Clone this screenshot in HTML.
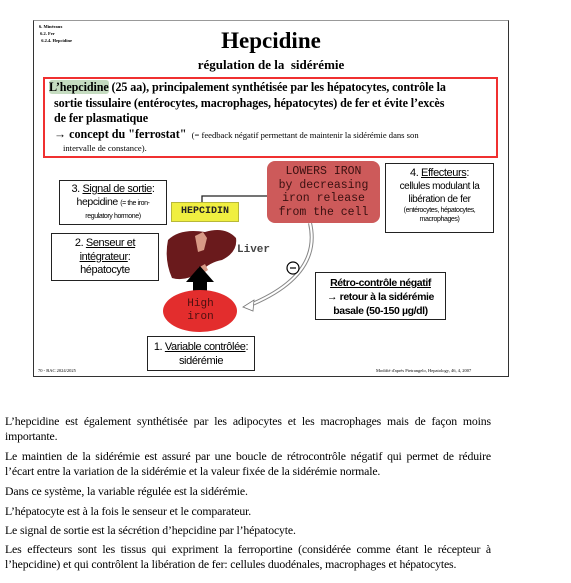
<!DOCTYPE html>
<html><head><meta charset="utf-8"><style>
*{margin:0;padding:0;box-sizing:border-box}
body{width:571px;height:583px;background:#fff;position:relative;overflow:hidden;font-family:"Liberation Serif",serif;color:#000}
.a{position:absolute}
.box{position:absolute;border:1.3px solid #222;background:#fff;font-family:"Liberation Sans",sans-serif;text-align:center;font-size:10px;line-height:12px;letter-spacing:-0.4px}
.mono{font-family:"Liberation Mono",monospace}
u{text-decoration:underline}
.bt{position:absolute;left:5px;width:486px;font-size:11.8px;line-height:15px;text-align:justify;letter-spacing:-0.15px}
</style></head><body>
<div class="a" style="left:33px;top:20px;width:476px;height:357px;border:1.3px solid #333;border-top-color:#999"></div>
<div class="a" style="left:39px;top:23px;font-size:4.5px;line-height:7px;font-weight:bold">6. Minéraux<br>&nbsp;6.2. Fer<br>&nbsp;&nbsp;6.2.4. Hepcidine</div>
<div class="a" style="left:0;width:542px;top:28px;text-align:center;font-size:23px;font-weight:bold;line-height:26px">Hepcidine</div>
<div class="a" style="left:0;width:542px;top:57px;text-align:center;font-size:13px;font-weight:bold;line-height:16px">régulation de la&nbsp; sidérémie</div>
<div class="a" style="left:43px;top:77px;width:455px;height:81px;border:2px solid #f03030"></div>
<div class="a" style="left:49px;top:80px;width:447px;font-size:12.1px;font-weight:bold;line-height:15.5px;white-space:nowrap;letter-spacing:-0.1px"><span style="background:#c5dcc0;border-radius:3px">L’hepcidine</span> (25 aa), principalement synthétisée par les hépatocytes, contrôle la<br><span style="padding-left:5px">sortie tissulaire (entérocytes, macrophages, hépatocytes) de fer et évite l’excès</span><br><span style="padding-left:5px">de fer plasmatique</span></div>
<div class="a" style="left:54px;top:127px;font-size:12.1px;font-weight:bold;line-height:15px;white-space:nowrap">→ concept du "ferrostat" <span style="font-weight:normal;font-size:8.6px">&nbsp;(= feedback négatif permettant de maintenir la sidérémie dans son</span></div>
<div class="a" style="left:63px;top:142px;font-size:8.6px;line-height:12px">intervalle de constance).</div>

<svg class="a" style="left:0;top:0" width="571" height="400">
<polyline points="202,218 202,196 268,196" fill="none" stroke="#222" stroke-width="1.3"/>
<path d="M168,240 Q180,228 205,232 Q225,226 236,238 Q238,252 222,260 Q210,262 200,272 Q185,282 172,278 Q164,260 168,240Z" fill="#6a1a1c"/>
<path d="M195,236 l8,-4 4,6 -3,12 -6,2z" fill="#d89a86"/>
<path d="M198,268 l7,-4 3,6 -6,4z" fill="#d89a86"/>
<polygon points="193,295 207,295 207,282 214,282 200,266 186,282 193,282" fill="#000"/>
<ellipse cx="200" cy="311" rx="37" ry="21" fill="#e32d2d"/>
<path d="M310,223 Q322,275 250,305" fill="none" stroke="#888" stroke-width="4"/>
<path d="M310,223 Q322,275 250,305" fill="none" stroke="#fff" stroke-width="2"/>
<polygon points="243,307 254,300 253,311" fill="#fff" stroke="#777" stroke-width="0.8"/>
<circle cx="293" cy="268" r="6" fill="#fff" stroke="#000" stroke-width="1.2"/>
<line x1="290" y1="268" x2="296" y2="268" stroke="#000" stroke-width="1.2"/>
</svg>
<div class="a mono" style="left:267px;top:161px;width:113px;height:62px;background:#cd5a5a;border-radius:8px;color:#3a1010;font-size:11.5px;line-height:13.5px;text-align:center;padding-top:4px">LOWERS IRON<br>by decreasing<br>iron release<br>from the cell</div>
<div class="a mono" style="left:171px;top:202px;width:68px;height:20px;background:#f0ef40;border:1px solid #b8b838;font-size:10px;font-weight:bold;color:#222;text-align:center;line-height:18px">HEPCIDIN</div>
<div class="a mono" style="left:237px;top:244px;font-size:11px;font-weight:bold;color:#444">Liver</div>
<div class="a mono" style="left:163px;top:298px;width:75px;text-align:center;font-size:11px;line-height:13px;color:#4a1010">High<br>iron</div>

<div class="box" style="left:59px;top:180px;width:108px;height:45px;padding-top:2px"><span style="font-size:11px">3. <u>Signal de sortie</u>:</span><br><span style="font-size:10.5px">hepcidine</span> <span style="font-size:7px">(= the iron-<br>regulatory hormone)</span></div>
<div class="box" style="left:51px;top:233px;width:108px;height:48px;font-size:11px;line-height:13.5px;padding-top:3px">2. <u>Senseur et<br>intégrateur</u>:<br>hépatocyte</div>
<div class="box" style="left:385px;top:163px;width:109px;height:70px;padding-top:3px;line-height:13px"><span style="font-size:11px">4. <u>Effecteurs</u>:</span><br>cellules modulant la<br>libération de fer<br><span style="font-size:7px;line-height:9px;display:block">(entérocytes, hépatocytes,<br>macrophages)</span></div>
<div class="box" style="left:315px;top:272px;width:131px;height:48px;font-size:10.5px;line-height:14px;font-weight:bold;padding-top:3px"><u>Rétro-contrôle négatif</u><br>→ retour à la sidérémie<br>basale (50-150 µg/dl)</div>
<div class="box" style="left:147px;top:336px;width:108px;height:35px;font-size:11px;line-height:14px;padding-top:3px">1. <u>Variable contrôlée</u>:<br>sidérémie</div>
<div class="a" style="left:38px;top:368px;font-size:4.5px">70 - BAC 2024/2025</div>
<div class="a" style="left:376px;top:368px;font-size:4.5px">Modifié d'après Pietrangelo, Hepatology, 46, 4, 2007</div>

<div class="bt" style="top:414px">L’hepcidine est également synthétisée par les adipocytes et les macrophages mais de façon moins importante.</div>
<div class="bt" style="top:449px">Le maintien de la sidérémie est assuré par une boucle de rétrocontrôle négatif qui permet de réduire l’écart entre la variation de la sidérémie et la valeur fixée de la sidérémie normale.</div>
<div class="bt" style="top:484px">Dans ce système, la variable régulée est la sidérémie.</div>
<div class="bt" style="top:504px">L’hépatocyte est à la fois le senseur et le comparateur.</div>
<div class="bt" style="top:523px">Le signal de sortie est la sécrétion d’hepcidine par l’hépatocyte.</div>
<div class="bt" style="top:542px">Les effecteurs sont les tissus qui expriment la ferroportine (considérée comme étant le récepteur à l’hepcidine) et qui contrôlent la libération de fer: cellules duodénales, macrophages et hépatocytes.</div>
</body></html>
